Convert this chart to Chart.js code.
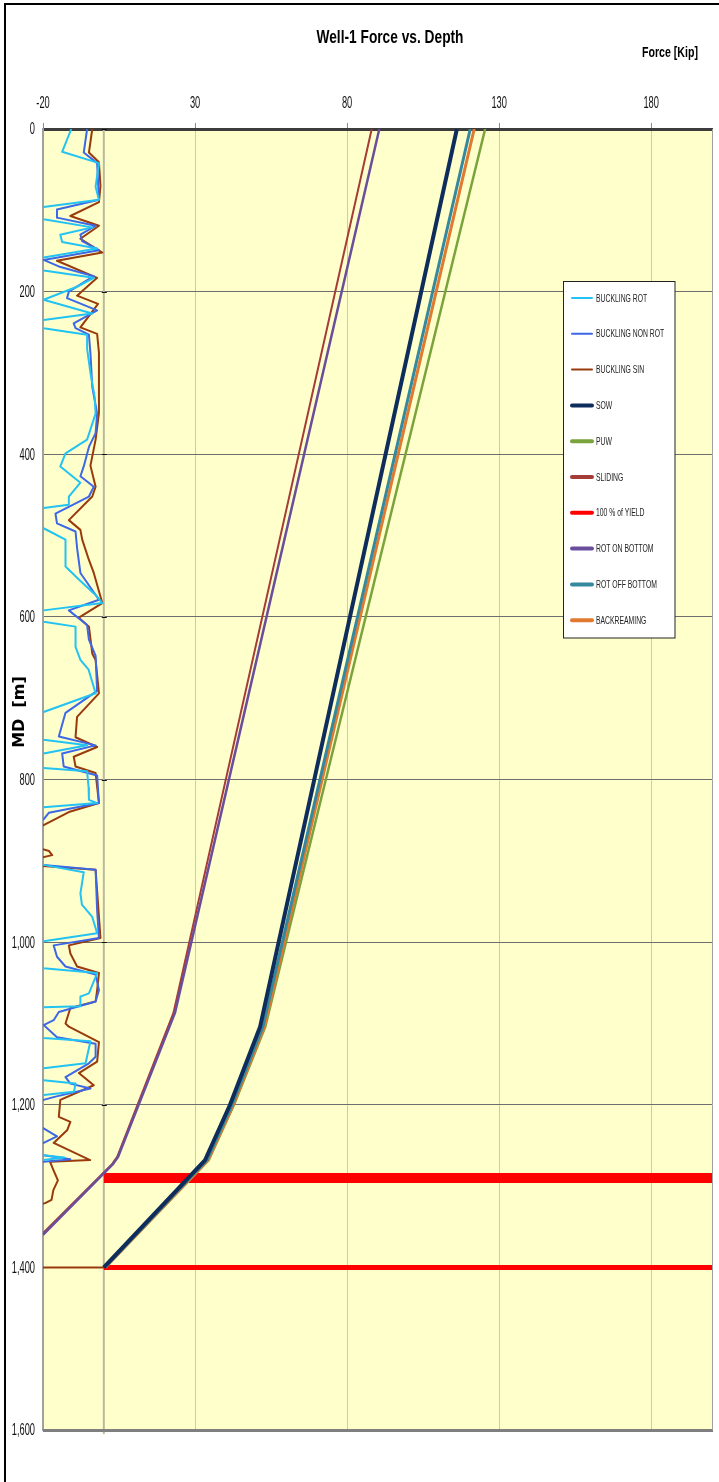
<!DOCTYPE html>
<html>
<head>
<meta charset="utf-8">
<title>Well-1 Force vs. Depth</title>
<script src="https://cdn.jsdelivr.net/npm/chart.js@4.4.0/dist/chart.umd.min.js"></script>
<style>
  html, body { margin: 0; padding: 0; background: #ffffff; }
  #wrap { position: relative; width: 719px; height: 1482px; }
  canvas { display: block; }
</style>
</head>
<body>
<div id="wrap"><canvas id="chart" width="719" height="1482"></canvas></div>
<script>
// ---- axis ticks ----
const forceTicks = [-20, 30, 80, 130, 180];
const forceTickLabels = ['-20', '30', '80', '130', '180'];
const depthTicks = [0, 200, 400, 600, 800, 1000, 1200, 1400, 1600];
const depthTickLabels = ['0', '200', '400', '600', '800', '1,000', '1,200', '1,400', '1,600'];

// ---- series: [force (kip), measured depth (m)] ----
const bucklingRot = [
  [-10.7, 0], [-13.7, 28], [-1.6, 42], [-2.7, 71], [-1.6, 87], [-19.8, 96], [-26, 104], [-19.8, 111],
  [-3.8, 121], [-14.3, 130], [-13.7, 139], [-2.2, 147], [-19.8, 158], [-26, 166], [-19.8, 174],
  [-3.3, 183], [-8.8, 194], [-19.8, 210], [-3.8, 227], [-19.8, 235], [-26, 240], [-19.8, 245],
  [-5.5, 253], [-5.5, 270], [-4.4, 300], [-3.0, 330], [-2.7, 350], [-5.5, 382], [-12.6, 399],
  [-14.3, 415], [-7.7, 435], [-11.5, 452], [-11.5, 462], [-19.8, 466], [-26, 478], [-19.8, 491],
  [-12.6, 505], [-12.6, 538], [-8.2, 554], [-2.2, 575], [-0.5, 583], [-19.8, 592], [-26, 600],
  [-19.8, 606], [-9.3, 612], [-9.3, 637], [-7.7, 653], [-5.0, 665], [-2.7, 694], [-19.8, 717],
  [-26, 735], [-19.8, 751], [-5.5, 758], [-19.8, 768], [-26, 775], [-19.8, 786], [-5.5, 790],
  [-5.0, 810], [-4.9, 825], [-2.2, 829], [-19.8, 834], [-26, 845], [-30, 880], [-19.8, 905],
  [-6.6, 914], [-7.7, 940], [-7.2, 954], [-3.8, 969], [-2.2, 989], [-19.8, 999], [-26, 1015],
  [-19.8, 1032], [-2.2, 1038], [-4.9, 1063], [-7.7, 1067], [-7.7, 1079], [-19.8, 1080], [-26, 1100],
  [-19.8, 1118], [-4.4, 1122], [-6.0, 1149], [-19.8, 1155], [-26, 1162], [-19.8, 1170], [-9.3, 1174],
  [-9.8, 1184], [-19.8, 1188], [-30, 1200], [-30, 1255], [-19.8, 1262], [-13, 1265], [-19.8, 1268],
  [-30, 1275]
];
const bucklingNonRot = [
  [-5.5, 0], [-6.6, 29], [-2.2, 42], [-1.6, 87], [-15.4, 99], [-15.4, 109], [-2.7, 119], [-7.7, 130],
  [-7.1, 138], [-1.6, 149], [-19.8, 161], [-14.8, 169], [-3.3, 181], [-11.5, 200], [-12.1, 208],
  [-2.2, 223], [-9.9, 239], [-9.3, 245], [-4.9, 253], [-4.4, 276], [-3.8, 317], [-2.2, 350],
  [-2.7, 374], [-4.9, 391], [-6.6, 415], [-7.7, 427], [-3.3, 440], [-4.9, 452], [-15.9, 473],
  [-15.4, 485], [-9.3, 495], [-8.8, 515], [-7.7, 546], [-1.6, 579], [-11.5, 592], [-5.5, 610],
  [-4.9, 628], [-2.7, 648], [-2.2, 691], [-12.6, 718], [-14.8, 747], [-2.7, 758], [-13.7, 768],
  [-13.2, 784], [-2.2, 795], [-1.6, 829], [-18.1, 841], [-19.8, 849], [-28, 860], [-28, 900],
  [-19.8, 905], [-2.7, 911], [-2.2, 961], [-1.6, 995], [-16.5, 1004], [-15.4, 1018], [-12.6, 1030],
  [-2.7, 1040], [-1.6, 1059], [-2.7, 1073], [-14.8, 1086], [-16.5, 1096], [-19.8, 1102], [-15.4, 1117],
  [-2.7, 1125], [-2.7, 1141], [-4.9, 1149], [-12.6, 1166], [-11.0, 1174], [-4.4, 1180], [-15.9, 1190],
  [-19.8, 1194], [-26, 1205], [-26, 1225], [-19.8, 1229], [-15.4, 1239], [-19.8, 1247], [-26, 1255],
  [-19.8, 1262], [-11.0, 1267], [-19.8, 1270], [-30, 1280]
];
const bucklingSin = [
  [-3.8, 0], [-4.9, 29], [-1.6, 41], [-1.1, 70], [-1.6, 90], [-11.0, 107], [-1.6, 119], [-7.7, 135],
  [-0.5, 152], [-15.4, 162], [-2.2, 183], [-8.8, 205], [-1.9, 215], [-7.7, 244], [-2.2, 252],
  [-1.6, 275], [-1.6, 349], [-2.7, 382], [-4.4, 414], [-2.7, 440], [-3.8, 452], [-11.5, 481],
  [-7.7, 493], [-7.1, 505], [-4.9, 530], [-3.3, 546], [-0.5, 583], [-8.2, 601], [-4.9, 612],
  [-3.8, 645], [-2.7, 653], [-1.6, 694], [-8.8, 723], [-9.3, 748], [-2.2, 760], [-9.9, 772],
  [-9.3, 784], [-2.7, 792], [-1.6, 829], [-11.5, 840], [-19.8, 856], [-25, 868], [-25, 880],
  [-18.0, 888], [-17.0, 893], [-25, 900], [-25, 905], [-2.7, 911], [-1.6, 969], [-1.1, 995],
  [-11.5, 1004], [-11.0, 1014], [-8.8, 1030], [-1.6, 1038], [-2.2, 1059], [-2.7, 1073], [-11.0, 1081],
  [-12.6, 1100], [-11.5, 1104], [-1.6, 1123], [-2.2, 1147], [-8.2, 1161], [-3.3, 1176], [-14.3, 1194],
  [-14.8, 1215], [-11.0, 1221], [-12.0, 1231], [-16.5, 1247], [-4.5, 1268], [-17.7, 1270],
  [-16.6, 1280], [-15.1, 1293], [-16.6, 1305], [-17.2, 1317], [-19.3, 1321], [-30, 1330],
  [-30, 1400], [0, 1400]
];
const sow = [[116.1, 0], [51.4, 1104], [41.5, 1200], [33.3, 1268], [0, 1400]];
const puw = [[125.4, 0], [53.1, 1104], [42.8, 1200], [34.5, 1268], [0.5, 1400]];
const sliding = [[88.1, 0], [22.9, 1087], [4.4, 1264], [2.7, 1273], [-20, 1358]];
const yieldDepths = [1290, 1400];
const yieldForceSpan = [0, 200];
const rotOnBottom = [[90.6, 0], [23.4, 1087], [4.7, 1264], [3.0, 1273], [-20, 1360]];
const rotOffBottom = [[120.5, 0], [52.3, 1104], [42.2, 1200], [33.9, 1268], [0.3, 1400]];
const backreaming = [[121.8, 0], [52.8, 1104], [42.6, 1200], [34.3, 1268], [0.5, 1400]];

const SANS = "'Liberation Sans', Arial, sans-serif";
const toPts = arr => arr.map(([f, d]) => ({ x: f, y: d }));
const yieldLine = depth => yieldForceSpan.map(f => ({ x: f, y: depth }));

function series(label, data, color, width, order, extra) {
  return Object.assign({
    label, data, borderColor: color, backgroundColor: color, borderWidth: width,
    showLine: true, pointRadius: 0, pointHoverRadius: 0, tension: 0, fill: false, order,
    borderJoinStyle: 'round', borderCapStyle: 'butt'
  }, extra || {});
}

const datasets = [
  series('BUCKLING ROT', toPts(bucklingRot), '#22C3F3', 2, 8, { legendWidth: 2 }),
  series('BUCKLING NON ROT', toPts(bucklingNonRot), '#3C68E6', 2, 9, { legendWidth: 2 }),
  series('BUCKLING SIN', toPts(bucklingSin), '#993A0C', 2, 10, { legendWidth: 2 }),
  series('SOW', toPts(sow), '#0E2D5C', 4, 1, { legendWidth: 4 }),
  series('PUW', toPts(puw), '#7AA33C', 2.5, 4, { legendWidth: 4 }),
  series('SLIDING', toPts(sliding), '#A63C38', 2, 6, { legendWidth: 4 }),
  series('100 % of YIELD', yieldLine(yieldDepths[0]), '#FF0000', 10, 7, { legendWidth: 4 }),
  series('ROT ON BOTTOM', toPts(rotOnBottom), '#6A4E9C', 2.5, 5, { legendWidth: 4 }),
  series('ROT OFF BOTTOM', toPts(rotOffBottom), '#35889E', 3, 2, { legendWidth: 4 }),
  series('BACKREAMING', toPts(backreaming), '#E07A30', 3, 3, { legendWidth: 4 }),
  series('100 % of YIELD', yieldLine(yieldDepths[1]), '#FF0000', 5, 7, { legendSkip: true })
];

// condensed text: regular face squeezed horizontally
function narrowText(ctx, text, x, y, font, sx, align) {
  ctx.save();
  ctx.translate(x, y);
  ctx.scale(sx, 1);
  ctx.font = font;
  ctx.textAlign = align;
  ctx.textBaseline = 'middle';
  ctx.fillText(text, 0, 0);
  ctx.restore();
}

// Background, zero-force axis, borders, tick labels, titles, frame and the boxed legend
const decorations = {
  id: 'decorations',
  beforeDraw(chart) {
    const { ctx, chartArea: a } = chart;
    ctx.save();
    ctx.fillStyle = '#FFFFCC';
    ctx.fillRect(a.left, a.top, a.right - a.left, a.bottom - a.top);
    ctx.restore();
  },
  beforeDatasetsDraw(chart) {
    const { ctx, chartArea: a, scales } = chart;
    const x0 = scales.x.getPixelForValue(0);
    ctx.save();
    ctx.strokeStyle = '#B9B99C';
    ctx.lineWidth = 2;
    ctx.beginPath();
    ctx.moveTo(x0, a.top);
    ctx.lineTo(x0, a.bottom + 4);
    ctx.stroke();
    ctx.strokeStyle = '#111';
    ctx.lineWidth = 1;
    depthTicks.forEach(v => {
      const y = Math.round(scales.y.getPixelForValue(v)) + 0.5;
      ctx.beginPath();
      ctx.moveTo(x0 - 2, y);
      ctx.lineTo(x0 + 3, y);
      ctx.stroke();
    });
    ctx.restore();
  },
  afterDraw(chart) {
    const { ctx, chartArea: a, scales } = chart;
    ctx.save();
    // plot edges
    ctx.strokeStyle = '#7F7F7F';
    ctx.lineWidth = 3;
    ctx.beginPath();
    ctx.moveTo(a.left, a.bottom + 0.5);
    ctx.lineTo(a.right + 1, a.bottom + 0.5);
    ctx.stroke();
    ctx.strokeStyle = '#A0A0A0';
    ctx.lineWidth = 1;
    ctx.beginPath();
    ctx.moveTo(a.right + 0.5, a.top);
    ctx.lineTo(a.right + 0.5, a.bottom);
    ctx.stroke();

    // outer frame (top and left)
    ctx.strokeStyle = '#000';
    ctx.lineWidth = 2;
    ctx.beginPath();
    ctx.moveTo(chart.width, 4);
    ctx.lineTo(5, 4);
    ctx.lineTo(5, chart.height);
    ctx.stroke();

    // tick labels
    ctx.fillStyle = '#111';
    forceTicks.forEach((v, i) => {
      narrowText(ctx, forceTickLabels[i], scales.x.getPixelForValue(v), 104, '16px ' + SANS, 0.58, 'center');
    });
    depthTicks.forEach((v, i) => {
      narrowText(ctx, depthTickLabels[i], 35, scales.y.getPixelForValue(v) + 1, '16px ' + SANS, 0.58, 'right');
    });

    // titles
    ctx.fillStyle = '#000';
    ctx.textAlign = 'center';
    ctx.textBaseline = 'middle';
    ctx.font = 'bold 18px ' + SANS;
    ctx.fillText('Well-1 Force vs. Depth', 390, 38, 147);
    ctx.font = 'bold 14px ' + SANS;
    ctx.fillText('Force [Kip]', 670, 53, 56);
    ctx.save();
    ctx.translate(20, 712);
    ctx.rotate(-Math.PI / 2);
    ctx.font = "bold 16px 'DejaVu Sans', sans-serif";
    ctx.fillText('MD  [m]', 0, 0);
    ctx.restore();

    // legend box
    const box = { x: 563.5, y: 281.5, w: 111.5, h: 356.5 };
    ctx.fillStyle = '#FFFFFF';
    ctx.fillRect(box.x, box.y, box.w, box.h);
    ctx.strokeStyle = '#222';
    ctx.lineWidth = 1;
    ctx.strokeRect(box.x, box.y, box.w, box.h);
    const items = chart.data.datasets.filter(d => !d.legendSkip);
    items.forEach((d, i) => {
      const y = 298 + i * 35.8;
      ctx.strokeStyle = d.borderColor;
      ctx.lineWidth = d.legendWidth;
      ctx.lineCap = 'round';
      ctx.beginPath();
      ctx.moveTo(572, y);
      ctx.lineTo(592, y);
      ctx.stroke();
      ctx.fillStyle = '#222';
      narrowText(ctx, d.label, 596, y + 0.5, '11px ' + SANS, 0.62, 'left');
    });
    ctx.restore();
  }
};

new Chart(document.getElementById('chart'), {
  type: 'scatter',
  data: { datasets },
  options: {
    responsive: false,
    animation: false,
    devicePixelRatio: 1,
    layout: { padding: { left: 0, top: 0, right: 7, bottom: 52 } },
    plugins: { legend: { display: false }, tooltip: { enabled: false }, title: { display: false } },
    scales: {
      x: {
        type: 'linear',
        position: 'top',
        min: -20,
        max: 200,
        afterFit(scale) { scale.height = 129; },
        afterBuildTicks(scale) { scale.ticks = forceTicks.map(v => ({ value: v })); },
        ticks: { display: false },
        grid: {
          color: ctx => (ctx.tick && ctx.tick.value === -20) ? 'rgba(0,0,0,0)' : '#C8C8C8',
          lineWidth: 1,
          borderDash: [4, 3],
          drawTicks: true,
          tickLength: 6,
          tickColor: '#8A8A8A',
          tickBorderDash: []
        },
        border: { display: true, color: '#3C3C3C', width: 3 }
      },
      y: {
        type: 'linear',
        position: 'left',
        reverse: true,
        min: 0,
        max: 1600,
        afterFit(scale) { scale.width = 43; },
        afterBuildTicks(scale) { scale.ticks = depthTicks.map(v => ({ value: v })); },
        ticks: { display: false },
        grid: {
          color: ctx => (ctx.tick && (ctx.tick.value === 0 || ctx.tick.value === 1600)) ? 'rgba(0,0,0,0)' : '#6E6E6E',
          lineWidth: 1,
          borderDash: [3, 3],
          drawTicks: false
        },
        border: { display: true, color: '#A0A0A0', width: 2 }
      }
    }
  },
  plugins: [decorations]
});
</script>
</body>
</html>
